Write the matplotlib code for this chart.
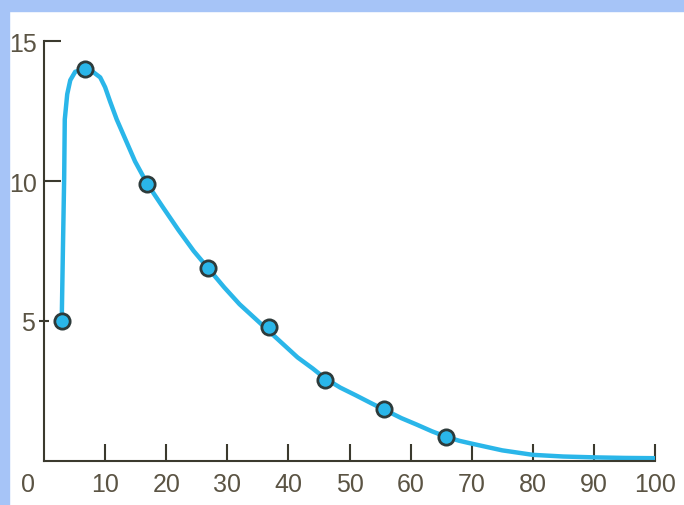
import matplotlib
matplotlib.use("Agg")
import matplotlib.pyplot as plt
from matplotlib.patches import Rectangle

# measured points (markers)
point_x = [2.9, 6.7, 16.9, 26.9, 36.9, 46.0, 55.7, 65.8]
point_y = [5, 14, 9.9, 6.9, 4.8, 2.9, 1.85, 0.85]

# smooth curve
curve_x = [2.9, 3.1, 3.3, 3.4, 3.8, 4.3, 5.1, 6.7, 8.0, 9.2, 10.0, 10.8, 11.9,
           13.3, 14.9, 16.9, 19.5, 22, 24.5, 27, 29.5, 32, 34.5, 37, 39.5,
           41.5, 44, 46, 48.5, 51, 53.5, 56, 58.5, 61, 63.5, 66, 68, 70, 72.5,
           75, 77.5, 80, 85, 90, 95, 100]
curve_y = [5.0, 7.6, 10.1, 12.2, 13.1, 13.6, 13.9, 14.0, 13.9, 13.7, 13.35,
           12.85, 12.2, 11.5, 10.7, 9.9, 9.05, 8.25, 7.5, 6.85, 6.2, 5.6, 5.1,
           4.6, 4.1, 3.7, 3.3, 2.95, 2.62, 2.35, 2.07, 1.8, 1.53, 1.3, 1.06,
           0.85, 0.72, 0.62, 0.5, 0.38, 0.3, 0.22, 0.16, 0.13, 0.11, 0.1]

x_ticks = [10, 20, 30, 40, 50, 60, 70, 80, 90, 100]
y_major = [10, 15]
y_minor = [5]

cyan = "#2ab6e9"
ink = "#3b3a2e"
text_col = "#5b5444"

plt.rcParams['font.family'] = ['Liberation Sans', 'DejaVu Sans']

fig = plt.figure(figsize=(6.84, 5.06), dpi=100)
fig.patch.set_facecolor("white")

# light blue frame on the left and top
fig.patches.append(Rectangle((0, 0), 9 / 684, 1, transform=fig.transFigure,
                             color="#a6c4f7", zorder=0))
fig.patches.append(Rectangle((0, 1 - 12 / 506), 1, 12 / 506, transform=fig.transFigure,
                             color="#a6c4f7", zorder=0))

ax = fig.add_axes([44 / 684, 1 - 462 / 506, 611 / 684, 420 / 506])
ax.set_xlim(0, 100)
ax.set_ylim(0, 15)

ax.plot(curve_x, curve_y, color=cyan, lw=3.2, solid_capstyle="round",
        solid_joinstyle="round", zorder=2)
ax.plot(point_x, point_y, "o", ms=11, mfc=cyan, mec="#2d3b3b", mew=2, zorder=3)

for s in ["top", "right"]:
    ax.spines[s].set_visible(False)
for s in ["left", "bottom"]:
    ax.spines[s].set_color(ink)
    ax.spines[s].set_linewidth(1.5)

ax.set_xticks(x_ticks)
ax.set_xticklabels([str(v) for v in x_ticks])
ax.set_yticks(y_major)
ax.set_yticklabels([str(v) for v in y_major])
ax.set_yticks(y_minor, minor=True)
ax.set_yticklabels([str(v) for v in y_minor], minor=True)

ax.tick_params(axis="x", direction="in", length=12, width=1.5, color=ink,
               labelsize=18, labelcolor=text_col, pad=8)
ax.tick_params(axis="y", which="major", direction="in", length=12, width=1.5,
               color=ink, labelsize=18, labelcolor=text_col, pad=5)
ax.tick_params(axis="y", which="minor", direction="inout", length=7, width=1.5,
               color=ink, labelsize=18, labelcolor=text_col, pad=3)

# shared origin label below-left of the corner
ax.annotate("0", xy=(0, 0), xycoords="data", xytext=(-16, -23),
            textcoords="offset pixels", ha="center", va="center",
            fontsize=18, color=text_col)

fig.savefig("out.png", dpi=100)
